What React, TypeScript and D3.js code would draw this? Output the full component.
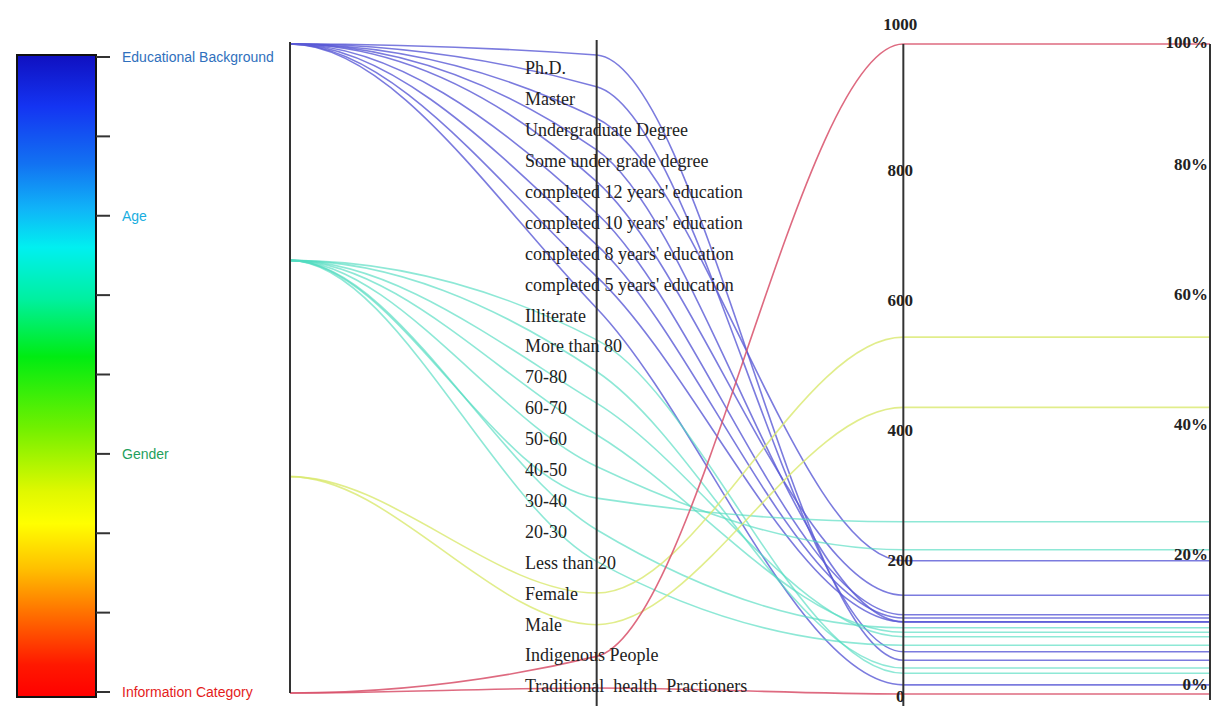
import React from "react";
import * as d3 from "d3";

// ---- data ----
const groups = ["Educational Background", "Age", "Gender", "Information Category"];

const educationLevels = [
  "Ph.D.",
  "Master",
  "Undergraduate Degree",
  "Some under grade degree",
  "completed 12 years' education",
  "completed 10 years' education",
  "completed 8 years' education",
  "completed 5 years' education",
  "Illiterate",
];
const educationCounts = [52, 65, 205, 111, 152, 122, 117, 111, 14];

const ageBands = ["More than 80", "70-80", "60-70", "50-60", "40-50", "30-40", "20-30", "Less than 20"];
const ageCounts = [32, 40, 88, 95, 222, 265, 102, 75];

const genders = ["Female", "Male"];
const genderCounts = [549, 441];

const infoCategories = ["Indigenous People", "Traditional  health  Practioners"];
const infoCounts = [1000, 0];

const respondents = 1000;
const countTicks = [0, 200, 400, 600, 800, 1000];
const percentTicks = [0, 20, 40, 60, 80, 100];

const legendTickCount = 9;
const legendLabelTicks = [0, 2, 5, 8];
const legendLabelColors = ["#2f70bd", "#19aee0", "#1f9f5c", "#e41c1c"];

const lineColors = ["#5a5ad6", "#52dcc0", "#d9e96e", "#d8506a"];
const lineOpacity = [0.8, 0.65, 0.8, 0.85];

const gradientStops: [number, string][] = [
  [0.0, "#1010c0"],
  [0.08, "#1434f2"],
  [0.17, "#1272f2"],
  [0.24, "#10b4f8"],
  [0.3, "#00f0f0"],
  [0.38, "#00f0a0"],
  [0.47, "#00ec12"],
  [0.58, "#70f000"],
  [0.68, "#e0f800"],
  [0.73, "#ffff00"],
  [0.8, "#ffc000"],
  [0.87, "#ff7000"],
  [0.95, "#ff1800"],
  [1.0, "#ff0000"],
];

const groupSubs = [educationLevels, ageBands, genders, infoCategories];
const groupCounts = [educationCounts, ageCounts, genderCounts, infoCounts];

// monotone cubic (Fritsch–Carlson) with flat tangents at the two end axes
function smoothPath(pts: [number, number][]): string {
  const n = pts.length;
  const h: number[] = [];
  const s: number[] = [];
  for (let i = 0; i < n - 1; i++) {
    h.push(pts[i + 1][0] - pts[i][0]);
    s.push((pts[i + 1][1] - pts[i][1]) / h[i]);
  }
  const m: number[] = new Array(n).fill(0);
  for (let i = 1; i < n - 1; i++) {
    const s0 = s[i - 1];
    const s1 = s[i];
    if (s0 * s1 <= 0) {
      m[i] = 0;
    } else {
      const p = (s0 * h[i] + s1 * h[i - 1]) / (h[i - 1] + h[i]);
      m[i] = (Math.sign(s0) + Math.sign(s1)) * Math.min(Math.abs(s0), Math.abs(s1), 0.5 * Math.abs(p));
    }
  }
  const path = d3.path();
  path.moveTo(pts[0][0], pts[0][1]);
  for (let i = 0; i < n - 1; i++) {
    const dx = h[i] / 3;
    path.bezierCurveTo(
      pts[i][0] + dx,
      pts[i][1] + m[i] * dx,
      pts[i + 1][0] - dx,
      pts[i + 1][1] - m[i + 1] * dx,
      pts[i + 1][0],
      pts[i + 1][1]
    );
  }
  return path.toString();
}

export default function App() {
  const W = 1213;
  const H = 706;

  const subs = groupSubs.flat();
  const rows = groupSubs.flatMap((list, gi) =>
    list.map((sub, i) => ({
      group: groups[gi],
      gi,
      sub,
      count: groupCounts[gi][i],
      pct: (groupCounts[gi][i] / respondents) * 100,
    }))
  );

  const xAxis = d3.scaleLinear().domain([0, 3]).range([290, 1210]);
  const yGroup = d3.scalePoint<string>().domain(groups).range([44, 693]);
  const ySub = d3.scalePoint<string>().domain(subs).range([55, 688]);
  const ySubLabel = d3.scalePoint<string>().domain(subs).range([68, 686]);
  const yCount = d3.scaleLinear().domain([0, 1000]).range([694, 44]);
  const yPct = d3.scaleLinear().domain([0, 100]).range([694, 44]);

  const legendY = d3.scaleLinear().domain([0, legendTickCount - 1]).range([57, 692]);
  const legendBar = { x: 17, y: 55, w: 79, h: 642 };

  const serif = "'Liberation Serif', 'Times New Roman', serif";
  const sans = "'Liberation Sans', Arial, sans-serif";

  return (
    <svg
      width={W}
      height={H}
      style={{ position: "absolute", left: 0, top: 0, background: "#fff" }}
    >
      <defs>
        <linearGradient id="jet" x1="0" y1="0" x2="0" y2="1">
          {gradientStops.map(([o, c], i) => (
            <stop key={i} offset={o} stopColor={c} />
          ))}
        </linearGradient>
      </defs>

      {/* legend colour bar */}
      <rect
        x={legendBar.x}
        y={legendBar.y}
        width={legendBar.w}
        height={legendBar.h}
        fill="url(#jet)"
        stroke="#111"
        strokeWidth={2}
      />
      {d3.range(legendTickCount).map((i) => (
        <line
          key={i}
          x1={legendBar.x + legendBar.w}
          x2={legendBar.x + legendBar.w + 14}
          y1={legendY(i)}
          y2={legendY(i)}
          stroke="#333"
          strokeWidth={2}
        />
      ))}
      {groups.map((g, i) => (
        <text
          key={g}
          x={122}
          y={legendY(legendLabelTicks[i])}
          dy="0.35em"
          fontFamily={sans}
          fontSize={14}
          fill={legendLabelColors[i]}
        >
          {g}
        </text>
      ))}

      {/* polylines */}
      <g fill="none">
        {rows.map((r, i) => (
          <path
            key={i}
            d={smoothPath([
              [xAxis(0), yGroup(r.group)!],
              [xAxis(1), ySub(r.sub)!],
              [xAxis(2), yCount(r.count)],
              [xAxis(3), yPct(r.pct)],
            ])}
            stroke={lineColors[r.gi]}
            strokeOpacity={lineOpacity[r.gi]}
            strokeWidth={1.6}
          />
        ))}
      </g>

      {/* axes */}
      <g stroke="#333" strokeWidth={2}>
        <line x1={xAxis(0)} x2={xAxis(0)} y1={42} y2={693} />
        <line x1={xAxis(1)} x2={xAxis(1)} y1={40} y2={706} />
        <line x1={xAxis(2)} x2={xAxis(2)} y1={44} y2={706} />
        <line x1={xAxis(3)} x2={xAxis(3)} y1={44} y2={700} />
      </g>

      {/* sub-category labels */}
      {subs.map((sub) => (
        <text
          key={sub}
          x={525}
          y={ySubLabel(sub)}
          dy="0.35em"
          fontFamily={serif}
          fontSize={18}
          fill="#222"
          style={{ whiteSpace: "pre" }}
        >
          {sub}
        </text>
      ))}

      {/* count axis labels */}
      {countTicks.map((v) => (
        <text
          key={v}
          x={xAxis(2) - 3}
          y={yCount(v) + (v === 1000 ? -20 : v === 0 ? 2 : -4)}
          dy="0.35em"
          textAnchor="middle"
          fontFamily={serif}
          fontWeight="bold"
          fontSize={17}
          fill="#222"
        >
          {v}
        </text>
      ))}

      {/* percent axis labels */}
      {percentTicks.map((v) => (
        <text
          key={v}
          x={xAxis(3) - 2}
          y={yPct(v) + (v === 100 ? 4 : -4)}
          textAnchor="end"
          fontFamily={serif}
          fontWeight="bold"
          fontSize={17}
          fill="#222"
        >
          {v + "%"}
        </text>
      ))}
    </svg>
  );
}
